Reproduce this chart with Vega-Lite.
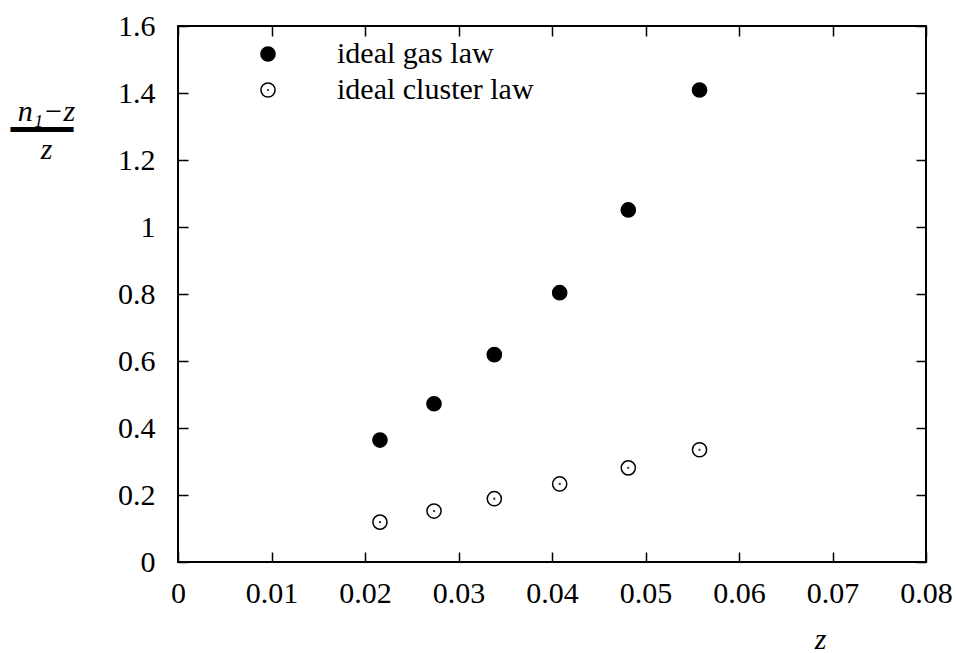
{
  "$schema": "https://vega.github.io/schema/vega-lite/v6.json",
  "width": 748,
  "height": 536,
  "autosize": "none",
  "padding": {"left": 178, "top": 26, "right": 30, "bottom": 91},
  "background": "white",
  "config": {
    "font": "Liberation Serif",
    "view": {"stroke": "black", "strokeWidth": 2},
    "axis": {
      "grid": false,
      "domain": false,
      "tickColor": "black",
      "tickWidth": 1.5,
      "tickSize": -10,
      "labelFont": "Liberation Serif",
      "labelFontSize": 30,
      "labelColor": "black",
      "titleFont": "Liberation Serif, DejaVu Sans Mono",
      "titleFontSize": 30,
      "titleFontWeight": "normal",
      "titleColor": "black"
    },
    "legend": {
      "labelFont": "Liberation Serif",
      "labelFontSize": 30,
      "labelColor": "black",
      "labelLimit": 0
    }
  },
  "data": {
    "values": [
      {"z": 0.0216, "v": 0.364, "series": "ideal gas law"},
      {"z": 0.02738, "v": 0.4725, "series": "ideal gas law"},
      {"z": 0.03383, "v": 0.619, "series": "ideal gas law"},
      {"z": 0.04082, "v": 0.804, "series": "ideal gas law"},
      {"z": 0.04816, "v": 1.051, "series": "ideal gas law"},
      {"z": 0.05578, "v": 1.409, "series": "ideal gas law"},
      {"z": 0.0216, "v": 0.119, "series": "ideal cluster law"},
      {"z": 0.02738, "v": 0.152, "series": "ideal cluster law"},
      {"z": 0.03383, "v": 0.189, "series": "ideal cluster law"},
      {"z": 0.04082, "v": 0.233, "series": "ideal cluster law"},
      {"z": 0.04816, "v": 0.281, "series": "ideal cluster law"},
      {"z": 0.05578, "v": 0.335, "series": "ideal cluster law"}
    ]
  },
  "layer": [
    {
      "mark": {"type": "point", "filled": true, "stroke": "black", "strokeWidth": 1.5, "size": 200, "opacity": 1},
      "encoding": {
        "x": {
          "field": "z", "type": "quantitative",
          "scale": {"domain": [0, 0.08], "nice": false, "zero": false},
          "axis": {
            "orient": "bottom",
            "values": [0, 0.01, 0.02, 0.03, 0.04, 0.05, 0.06, 0.07, 0.08],
            "format": "~g",
            "labelPadding": 26,
            "labelFlush": false,
            "labelOverlap": false,
            "title": "z",
            "titleFontStyle": "italic",
            "titleX": 642,
            "titleY": 86,
            "titleAlign": "center",
            "titleBaseline": "alphabetic",
            "titleAnchor": null
          }
        },
        "y": {
          "field": "v", "type": "quantitative",
          "scale": {"domain": [0, 1.6], "nice": false, "zero": false},
          "axis": {
            "orient": "left",
            "values": [0, 0.2, 0.4, 0.6, 0.8, 1, 1.2, 1.4, 1.6],
            "format": "~g",
            "labelPadding": 33,
            "labelFlush": false,
            "labelOverlap": false,
            "title": ["n₁−z", "━━━╸", "z"],
            "titleFontStyle": "italic",
            "titleAngle": 0,
            "titleX": -132,
            "titleY": 70,
            "titleAlign": "center",
            "titleBaseline": "top",
            "titleLineHeight": 19,
            "titleAnchor": null
          }
        },
        "fill": {
          "field": "series", "type": "nominal",
          "scale": {"domain": ["ideal gas law", "ideal cluster law"], "range": ["black", "white"]},
          "legend": {
            "title": null,
            "orient": "none",
            "legendX": 75,
            "legendY": 13,
            "labelOffset": 54,
            "rowPadding": 6,
            "padding": 0,
            "symbolSize": 200,
            "symbolStrokeColor": "black",
            "symbolStrokeWidth": 1.5,
            "symbolOpacity": 1,
            "labelLimit": 0,
            "encode": {"symbols": {"update": {"stroke": {"value": "black"}, "strokeWidth": {"value": 1.5}}}}
          }
        },
        "shape": {
          "field": "series", "type": "nominal",
          "scale": {"domain": ["ideal gas law", "ideal cluster law"], "range": ["circle", "M1,0A1,1,0,1,1,-1,0A1,1,0,1,1,1,0Z M0.05,0A0.05,0.05,0,1,1,-0.05,0A0.05,0.05,0,1,1,0.05,0Z"]},
          "legend": {
            "title": null,
            "orient": "none",
            "legendX": 75,
            "legendY": 13,
            "labelOffset": 54,
            "rowPadding": 6,
            "padding": 0,
            "symbolSize": 200,
            "symbolStrokeColor": "black",
            "symbolStrokeWidth": 1.5,
            "symbolOpacity": 1,
            "labelLimit": 0,
            "encode": {"symbols": {"update": {"stroke": {"value": "black"}, "strokeWidth": {"value": 1.5}}}}
          }
        }
      }
    },
    {
      "mark": {"type": "point", "opacity": 0},
      "encoding": {
        "x": {
          "field": "z", "type": "quantitative",
          "axis": {
            "orient": "top",
            "values": [0, 0.01, 0.02, 0.03, 0.04, 0.05, 0.06, 0.07, 0.08],
            "labels": false,
            "title": null
          }
        },
        "y": {
          "field": "v", "type": "quantitative",
          "axis": {
            "orient": "right",
            "values": [0, 0.2, 0.4, 0.6, 0.8, 1, 1.2, 1.4, 1.6],
            "labels": false,
            "title": null
          }
        }
      }
    }
  ],
  "resolve": {"axis": {"x": "independent", "y": "independent"}}
}
